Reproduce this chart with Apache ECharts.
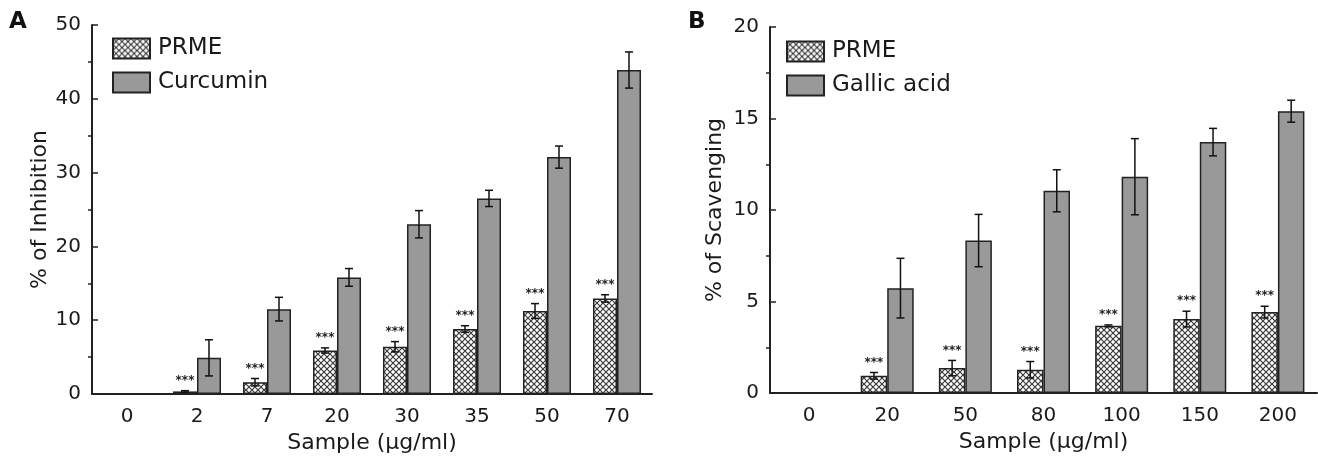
<!DOCTYPE html>
<html>
<head>
<meta charset="utf-8">
<script src="https://cdn.jsdelivr.net/npm/echarts@6/dist/echarts.min.js"></script>
<style>
  html, body { margin: 0; padding: 0; background: #fff; }
  #main { width: 1318px; height: 459px; }
</style>
</head>
<body>
<div id="main"></div>
<script>
// panel A: inhibition
const catsA = ['0', '2', '7', '20', '30', '35', '50', '70'];
const prmeA = [null, 0.35, 1.6, 5.9, 6.4, 8.8, 11.25, 12.95];
const prmeErrA = [0, 0.1, 0.5, 0.35, 0.7, 0.45, 1.0, 0.5];
const curcuminA = [null, 4.9, 11.5, 15.8, 23.0, 26.5, 32.1, 43.9];
const curcuminErrA = [0, 2.45, 1.6, 1.2, 1.85, 1.1, 1.5, 2.45];

// panel B: scavenging
const catsB = ['0', '20', '50', '80', '100', '150', '200'];
const prmeB = [null, 0.94, 1.36, 1.27, 3.67, 4.04, 4.42];
const prmeErrB = [0, 0.18, 0.42, 0.45, 0.05, 0.43, 0.32];
const gallicB = [null, 5.73, 8.33, 11.05, 11.82, 13.71, 15.4];
const gallicErrB = [0, 1.63, 1.43, 1.15, 2.08, 0.75, 0.6];

const FONT = '"DejaVu Sans", Arial, sans-serif';
const TXT = '#1a1a1a';
const BW_A = 24, BW_B = 26.5;

// crosshatch tile for PRME bars
function hatch() {
  const c = document.createElement('canvas');
  c.width = 6; c.height = 6;
  const ctx = c.getContext('2d');
  ctx.fillStyle = '#fff';
  ctx.fillRect(0, 0, 6, 6);
  ctx.strokeStyle = '#3a3a3a';
  ctx.lineWidth = 1.2;
  ctx.beginPath();
  ctx.moveTo(0, 0); ctx.lineTo(6, 6);
  ctx.moveTo(6, 0); ctx.lineTo(0, 6);
  ctx.stroke();
  return c;
}
const hatchPattern = { image: hatch(), repeat: 'repeat' };

function errData(a, ea, b, eb) {
  return a.map((v, i) => [i, v, ea[i], b[i], eb[i]]);
}

function errRender(bw) {
  return function (params, api) {
    const i = api.value(0);
    const kids = [];
    const pairs = [[api.value(1), api.value(2), -bw / 2, true], [api.value(3), api.value(4), bw / 2, false]];
    pairs.forEach(function (p) {
      const v = p[0], e = p[1];
      if (v == null || isNaN(v)) return;
      const top = api.coord([i, v + e]);
      const bot = api.coord([i, v - e]);
      const x = top[0] + p[2];
      const st = { stroke: '#111', lineWidth: 1.5 };
      kids.push({ type: 'line', shape: { x1: x, y1: top[1], x2: x, y2: bot[1] }, style: st });
      kids.push({ type: 'line', shape: { x1: x - 4, y1: top[1], x2: x + 4, y2: top[1] }, style: st });
      kids.push({ type: 'line', shape: { x1: x - 4, y1: bot[1], x2: x + 4, y2: bot[1] }, style: st });
      if (p[3]) {
        kids.push({
          type: 'text',
          style: { text: '***', x: x, y: top[1] - 4, align: 'center', verticalAlign: 'bottom',
            font: 'bold 12px ' + FONT, fill: '#222' }
        });
      }
    });
    return { type: 'group', children: kids };
  };
}

function yAxisCfg(idx, name, max, interval, gap) {
  return {
    type: 'value', gridIndex: idx, min: 0, max: max, interval: interval,
    name: name, nameLocation: 'middle', nameGap: gap,
    nameTextStyle: { fontFamily: FONT, fontSize: 22, color: TXT },
    axisLine: { show: true, lineStyle: { color: '#222', width: 2 } },
    axisTick: { show: true, inside: true, length: 6, lineStyle: { color: '#222', width: 1.5 } },
    // minor ticks drawn on the plot side, like the major ones
    minorTick: { show: true, splitNumber: 2, length: -4, lineStyle: { color: '#222', width: 1.5 } },
    axisLabel: { fontFamily: FONT, fontSize: 20, color: TXT, margin: 11 },
    splitLine: { show: false }
  };
}

function xAxisCfg(idx, cats) {
  return {
    type: 'category', gridIndex: idx, data: cats,
    name: 'Sample (μg/ml)', nameLocation: 'middle', nameGap: 35,
    nameTextStyle: { fontFamily: FONT, fontSize: 22, color: TXT },
    axisLine: { lineStyle: { color: '#222', width: 2 } },
    axisTick: { show: false },
    axisLabel: { fontFamily: FONT, fontSize: 20, color: TXT, margin: 13, interval: 0 }
  };
}

const barBorder = { borderColor: '#222', borderWidth: 1.5 };

const legendBase = {
  orient: 'vertical', padding: 0, icon: 'rect',
  itemWidth: 37, itemHeight: 20, itemGap: 11,
  textStyle: { fontFamily: FONT, fontSize: 23, color: TXT, padding: [0, 0, 0, 3] }
};

const chart = echarts.init(document.getElementById('main'), null, { renderer: 'canvas' });
chart.setOption({
  animation: false,
  backgroundColor: '#fff',
  graphic: [
    { type: 'text', left: 9, top: 11, style: { text: 'A', font: 'bold 23px ' + FONT, fill: '#111' } },
    { type: 'text', left: 688, top: 11, style: { text: 'B', font: 'bold 23px ' + FONT, fill: '#111' } }
  ],
  legend: [
    Object.assign({ data: ['PRME', 'Curcumin'], left: 112, top: 37 }, legendBase),
    Object.assign({ data: ['PRME', 'Gallic acid'], left: 786, top: 40 }, legendBase)
  ],
  grid: [
    { left: 92, top: 25, width: 560, height: 369 },
    { left: 770, top: 27, width: 547, height: 366 }
  ],
  xAxis: [xAxisCfg(0, catsA), xAxisCfg(1, catsB)],
  yAxis: [
    yAxisCfg(0, '% of Inhibition', 50, 10, 38),
    yAxisCfg(1, '% of Scavenging', 20, 5, 44)
  ],
  series: [
    {
      name: 'PRME', type: 'bar', xAxisIndex: 0, yAxisIndex: 0, data: prmeA,
      barWidth: BW_A, barGap: '0%',
      itemStyle: Object.assign({ color: hatchPattern }, barBorder)
    },
    {
      name: 'Curcumin', type: 'bar', xAxisIndex: 0, yAxisIndex: 0, data: curcuminA,
      barWidth: BW_A, barGap: '0%',
      itemStyle: Object.assign({ color: '#999999' }, barBorder)
    },
    {
      name: 'errA', type: 'custom', xAxisIndex: 0, yAxisIndex: 0,
      data: errData(prmeA, prmeErrA, curcuminA, curcuminErrA),
      renderItem: errRender(BW_A), z: 5, silent: true
    },
    {
      name: 'PRME', type: 'bar', xAxisIndex: 1, yAxisIndex: 1, data: prmeB,
      barWidth: BW_B, barGap: '0%',
      itemStyle: Object.assign({ color: hatchPattern }, barBorder)
    },
    {
      name: 'Gallic acid', type: 'bar', xAxisIndex: 1, yAxisIndex: 1, data: gallicB,
      barWidth: BW_B, barGap: '0%',
      itemStyle: Object.assign({ color: '#999999' }, barBorder)
    },
    {
      name: 'errB', type: 'custom', xAxisIndex: 1, yAxisIndex: 1,
      data: errData(prmeB, prmeErrB, gallicB, gallicErrB),
      renderItem: errRender(BW_B), z: 5, silent: true
    }
  ]
});
</script>
</body>
</html>
